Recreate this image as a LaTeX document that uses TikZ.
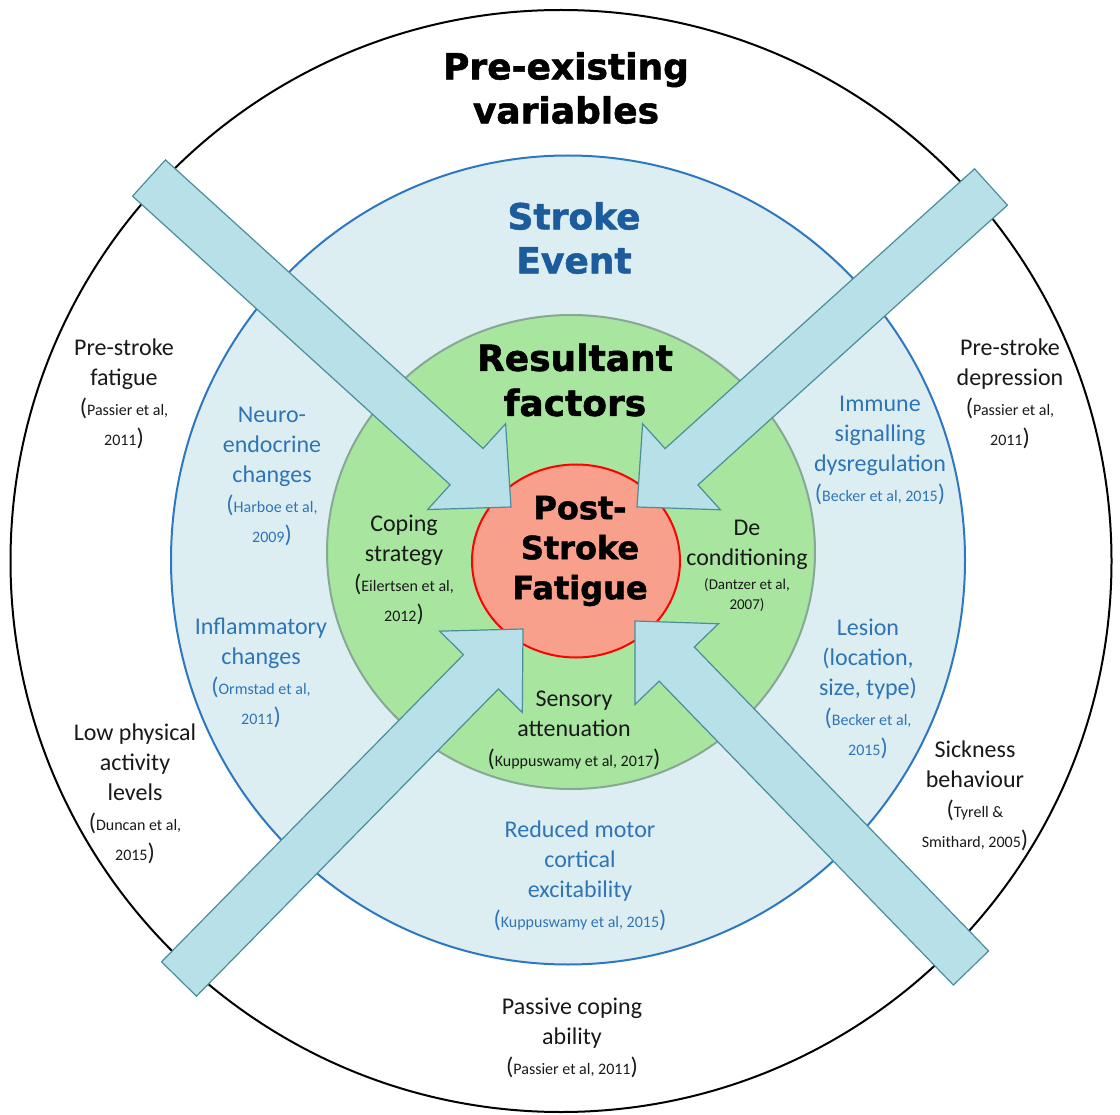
\documentclass[tikz,border=0pt]{standalone}
\usepackage{fontspec}
\setmainfont{Carlito}
\newfontfamily\headfont{DejaVu Sans}[BoldFeatures={FakeBold=1.5}]
\usetikzlibrary{calc,shapes.geometric}
\definecolor{RingBlue}{HTML}{DDEEF3}
\definecolor{RingLine}{HTML}{2E78C2}
\definecolor{TextBlue}{HTML}{2E75B6}
\definecolor{TitleBlue}{HTML}{1C5C9C}
\definecolor{CoreGreen}{HTML}{A8E6A0}
\definecolor{GreenLine}{HTML}{86A894}
\definecolor{FatigueRed}{HTML}{F9A08C}
\definecolor{ArrowFill}{HTML}{B8E0E8}
\definecolor{ArrowLine}{HTML}{4A8E9A}
\newcommand{\reff}[1]{{\fontsize{16}{30}\selectfont #1}}

\begin{document}
\begin{tikzpicture}[x=1pt,y=-1pt,
  every node/.style={font=\fontsize{24}{30}\selectfont, align=center, inner sep=0pt},
  ring/.style={ellipse, line width=2pt},
  outtext/.style={text=black!90},
  ringtext/.style={text=TextBlue},
  title/.style={font=\headfont\bfseries\fontsize{36}{44}\selectfont},
  blockarrow/.style={fill=ArrowFill, draw=ArrowLine, line width=1.2pt, line join=miter}]
\useasboundingbox (0,0) rectangle (1120,1115);

% rings
\node[ring,draw=black,fill=white,minimum width=1101pt,minimum height=1102pt] (outer) at (561,561) {};
\node[ring,draw=RingLine,fill=RingBlue,minimum width=794pt,minimum height=809pt] (event) at (568,560) {};
\node[ring,draw=GreenLine,fill=CoreGreen,minimum width=488pt,minimum height=474pt] (resultant) at (571,552) {};
\node[ring,draw=red,fill=FatigueRed,minimum width=208pt,minimum height=193pt] (core) at (576,561) {};

% arrows
\coordinate (tl-tail) at (149,178); \coordinate (tl-tip) at (511,507);
\coordinate (tr-tail) at (991,187); \coordinate (tr-tip) at (637,507);
\coordinate (bl-tail) at (179,979); \coordinate (bl-tip) at (523,629);
\coordinate (br-tail) at (971,968); \coordinate (br-tip) at (635,621);
\foreach \a in {tl,tr,bl,br} {
  \coordinate (\a-base) at ($(\a-tip)!60pt!(\a-tail)$);
  \draw[blockarrow] ($(\a-tail)!24.5pt!90:(\a-tip)$) -- ($(\a-base)!24.5pt!90:(\a-tip)$)
    -- ($(\a-base)!58pt!90:(\a-tip)$) -- (\a-tip) -- ($(\a-base)!58pt!-90:(\a-tip)$)
    -- ($(\a-base)!24.5pt!-90:(\a-tip)$) -- ($(\a-tail)!24.5pt!-90:(\a-tip)$) -- cycle;
}

% titles
\node[title] (preexist) at (566,88) {Pre-existing\\variables};
\node[title,text=TitleBlue] (strokeevent) at (574,238) {Stroke\\Event};
\node[title,font=\headfont\bfseries\fontsize{36}{45}\selectfont] (resfactors) at (575,380) {Resultant\\factors};
\node[title,font=\headfont\bfseries\fontsize{32}{40}\selectfont] (psf) at (580,551) {Post-\\Stroke\\Fatigue};

% pre-existing variables
\node[outtext] (prefatigue) at (124,394) {Pre-stroke\\fatigue\\(\reff{Passier et al,}\\\reff{2011})};
\node[outtext] (predepress) at (1010,394) {Pre-stroke\\depression\\(\reff{Passier et al,}\\\reff{2011})};
\node[outtext] (activity) at (135,794) {Low physical\\activity\\levels\\(\reff{Duncan et al,}\\\reff{2015})};
\node[outtext] (sickness) at (975,796) {Sickness\\behaviour\\(\reff{Tyrell \&}\\\reff{Smithard, 2005})};
\node[outtext] (passive) at (572,1038) {Passive coping\\ability\\(\reff{Passier et al, 2011})};

% stroke event
\node[ringtext] (neuro) at (272,476) {Neuro-\\endocrine\\changes\\(\reff{Harboe et al,}\\\reff{2009})};
\node[ringtext] (inflam) at (261,673) {Inflammatory\\changes\\(\reff{Ormstad et al,}\\\reff{2011})};
\node[ringtext] (immune) at (880,450) {Immune\\signalling\\dysregulation\\(\reff{Becker et al, 2015})};
\node[ringtext] (lesion) at (868,689) {Lesion\\(location,\\size, type)\\(\reff{Becker et al,}\\\reff{2015})};
\node[ringtext] (motor) at (580,876) {Reduced motor\\cortical\\excitability\\(\reff{Kuppuswamy et al, 2015})};

% resultant factors
\node[outtext] (coping) at (404,570) {Coping\\strategy\\(\reff{Eilertsen et al,}\\\reff{2012})};
\node[outtext] (decond) at (747,545) {De\\conditioning};
\node[outtext,font=\fontsize{15}{20}\selectfont] (dantzer) at (747,595) {(Dantzer et al,\\2007)};
\node[outtext] (sensory) at (574,730) {Sensory\\attenuation\\(\reff{Kuppuswamy et al, 2017})};
\end{tikzpicture}
\end{document}
